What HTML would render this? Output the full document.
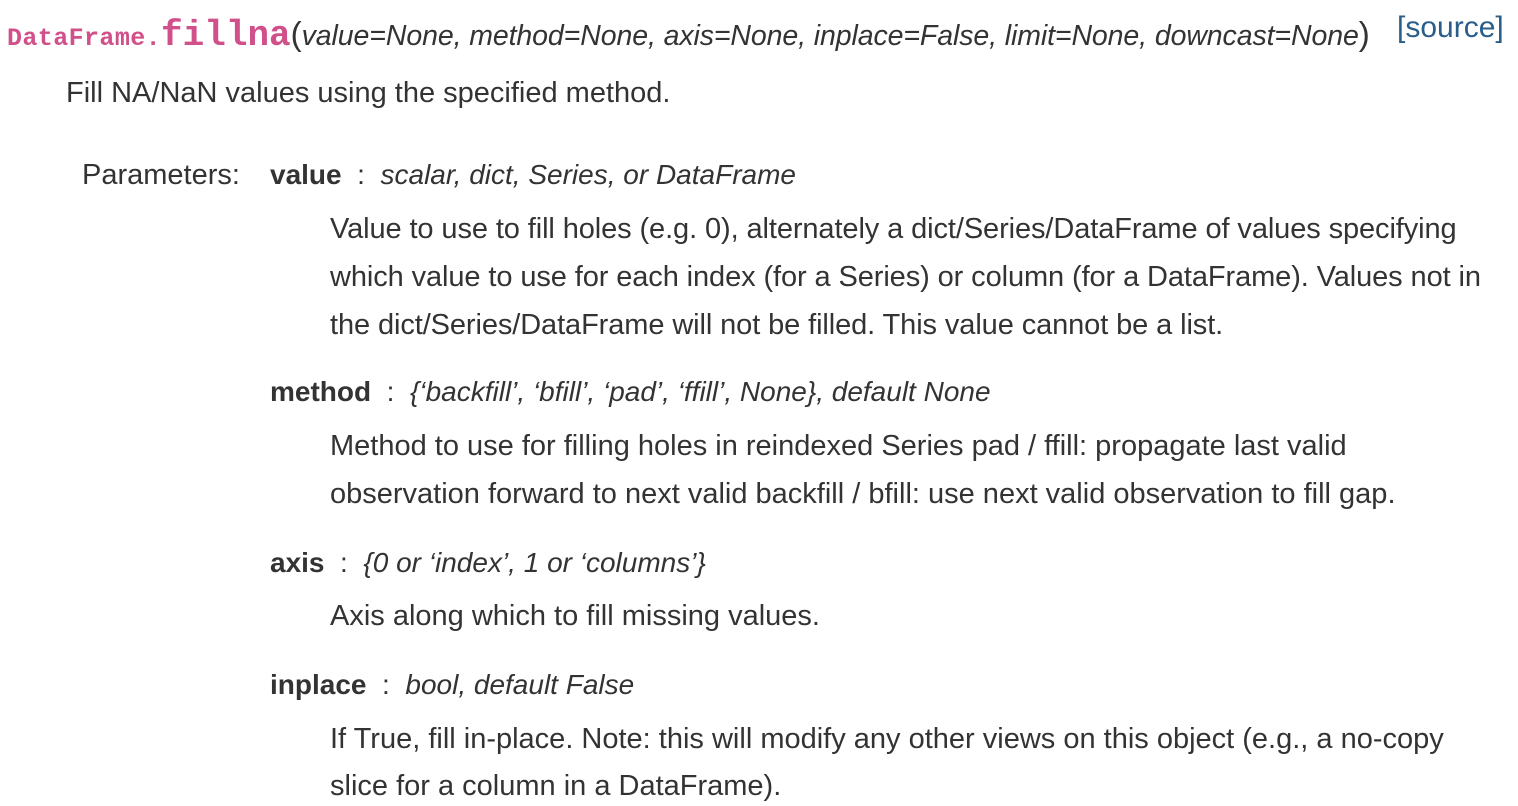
<!DOCTYPE html>
<html><head><style>
body{margin:0;width:1518px;height:800px;background:#fff;position:relative;overflow:hidden;font-family:"Liberation Sans",sans-serif;color:#333;}
.l{position:absolute;white-space:nowrap;line-height:40px;font-size:29px;}
.h{font-size:28px;}
b{font-weight:bold;}
i{font-style:italic;}
.m{font-family:"Liberation Mono",monospace;color:#d1508a;font-weight:bold;}
</style></head><body>
<div class="l" style="left:7px;top:14px;"><span class="m" style="font-size:25px;letter-spacing:0.4px">DataFrame.</span><span class="m" style="font-size:36px">fillna</span><span style="font-size:33px">(</span><i style="font-size:28.5px;letter-spacing:-0.1px">value=None, method=None, axis=None, inplace=False, limit=None, downcast=None</i><span style="font-size:33px">)</span></div>
<div class="l" style="left:1397px;top:8px;color:#2a5d8a;font-size:30px;">[source]</div>
<div class="l" style="left:66px;top:73px;">Fill NA/NaN values using the specified method.</div>
<div class="l" style="left:82px;top:155px;">Parameters:</div>
<div class="l h" style="left:270px;top:155px;"><b>value</b> &nbsp;: &nbsp;<i>scalar, dict, Series, or DataFrame</i></div>
<div class="l" style="left:330px;top:209px;letter-spacing:-0.1px">Value to use to fill holes (e.g. 0), alternately a dict/Series/DataFrame of values specifying</div>
<div class="l" style="left:330px;top:257px;letter-spacing:-0.1px">which value to use for each index (for a Series) or column (for a DataFrame). Values not in</div>
<div class="l" style="left:330px;top:305px;letter-spacing:-0.1px">the dict/Series/DataFrame will not be filled. This value cannot be a list.</div>
<div class="l h" style="left:270px;top:372px;"><b>method</b> &nbsp;: &nbsp;<i>{‘backfill’, ‘bfill’, ‘pad’, ‘ffill’, None}, default None</i></div>
<div class="l" style="left:330px;top:426px;">Method to use for filling holes in reindexed Series pad / ffill: propagate last valid</div>
<div class="l" style="left:330px;top:474px;">observation forward to next valid backfill / bfill: use next valid observation to fill gap.</div>
<div class="l h" style="left:270px;top:543px;"><b>axis</b> &nbsp;: &nbsp;<i>{0 or ‘index’, 1 or ‘columns’}</i></div>
<div class="l" style="left:330px;top:596px;">Axis along which to fill missing values.</div>
<div class="l h" style="left:270px;top:665px;"><b>inplace</b> &nbsp;: &nbsp;<i>bool, default False</i></div>
<div class="l" style="left:330px;top:719px;">If True, fill in-place. Note: this will modify any other views on this object (e.g., a no-copy</div>
<div class="l" style="left:330px;top:766px;">slice for a column in a DataFrame).</div>
</body></html>
